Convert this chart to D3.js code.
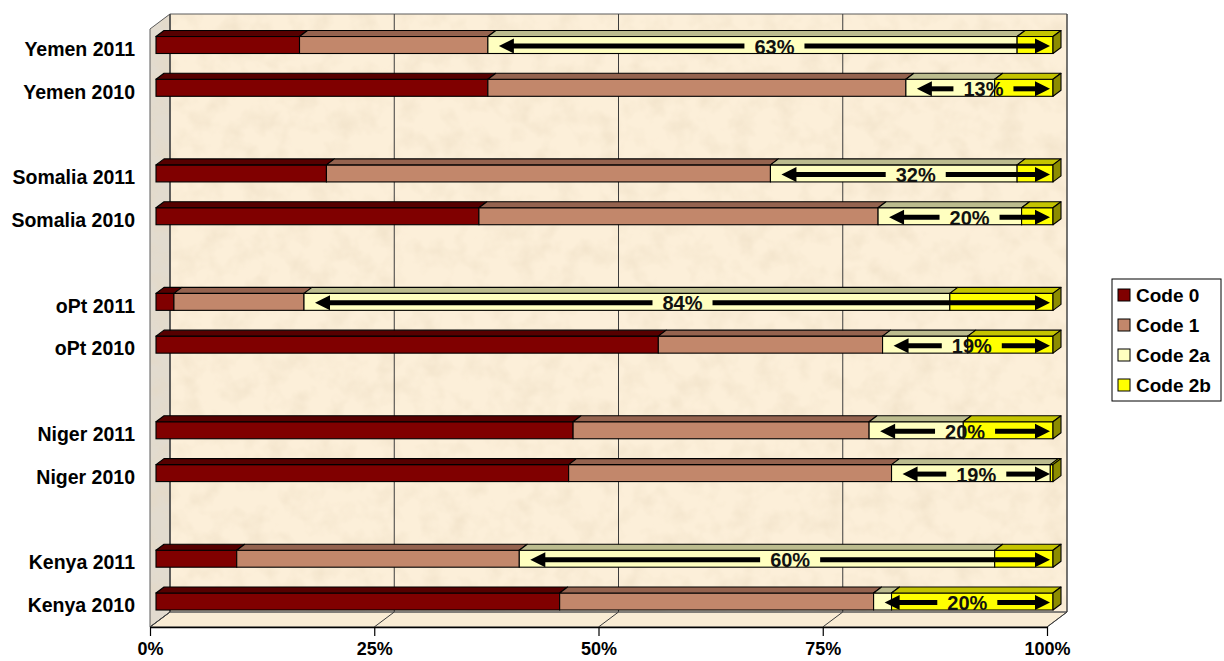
<!DOCTYPE html>
<html>
<head>
<meta charset="utf-8">
<script src="https://cdn.jsdelivr.net/npm/d3@7"></script>
<style>
  html, body { margin: 0; padding: 0; background: #ffffff; }
  svg { display: block; font-family: "Liberation Sans", Arial, sans-serif; }
</style>
</head>
<body>
<svg id="chart" width="1224" height="661"></svg>
<script>
// Rows from top to bottom; empty strings are spacer rows between countries
const categories = ["Yemen 2011", "Yemen 2010", "", "Somalia 2011", "Somalia 2010", "",
                    "oPt 2011", "oPt 2010", "", "Niger 2011", "Niger 2010", "",
                    "Kenya 2011", "Kenya 2010"];
const seriesNames = ["Code 0", "Code 1", "Code 2a", "Code 2b"];
// Shares in percent of each row
const code0  = [16, 37,   null, 19,   36,   null, 2,    56,  null, 46.5, 46,   null, 9,    45];
const code1  = [21, 46.6, null, 49.5, 44.5, null, 14.5, 25,  null, 33,   36,   null, 31.5, 35];
const code2a = [59, 9.9,  null, 27.5, 16,   null, 72,   9.5, null, 10.5, 17.7, null, 53,   2];
const code2b = [4,  6.5,  null, 4,    3.5,  null, 11.5, 9.5, null, 10,   0.3,  null, 6.5,  18];
// Combined Code 2a + 2b annotation written on the double arrows
const arrowLabels = ["63%", "13%", "", "32%", "20%", "", "84%", "19%", "", "20%", "19%", "", "60%", "20%"];
const tickValues = [0, 0.25, 0.5, 0.75, 1];

const frontColors = ["#800000", "#c2876b", "#ffffc0", "#ffff00"];
const topColors   = ["#560000", "#94634f", "#bcbc8e", "#c4c400"];
const sideColors  = ["#400000", "#7a5040", "#9a9a70", "#8c8c00"];

const svg = d3.select("#chart");
const defs = svg.append("defs");

// subtle paper grain for the walls
const f = defs.append("filter").attr("id", "grain")
  .attr("x", 0).attr("y", 0).attr("width", 1).attr("height", 1);
f.append("feTurbulence").attr("type", "fractalNoise").attr("baseFrequency", 0.045)
  .attr("numOctaves", 3).attr("seed", 7).attr("result", "n");
f.append("feColorMatrix").attr("in", "n").attr("type", "matrix")
  .attr("values", "0 0 0 0 0.80  0 0 0 0 0.68  0 0 0 0 0.50  0.9 0 0 0 -0.38")
  .attr("result", "c");
f.append("feComposite").attr("in", "c").attr("in2", "SourceGraphic").attr("operator", "in");

// ---- scales ----
const DX = 20, DY = -15;              // depth of the plot box
const xFront = d3.scaleLinear().domain([0, 1]).range([150, 1047]);
const xBar = d3.scaleLinear().domain([0, 100]).range([156, 1053]);
const yRow = d3.scalePoint().domain(d3.range(categories.length)).range([45, 601.5]);
const yLabel = d3.scalePoint().domain(d3.range(categories.length)).range([49, 605.5]);
const floorY = 627, topY = 14;
const barH = 17, bdx = 8, bdy = -6;

// ---- walls ----
const pts = a => a.map(p => p.join(",")).join(" ");
const backWall = [[xFront(0) + DX, topY], [xFront(1) + DX, topY], [xFront(1) + DX, floorY + DY], [xFront(0) + DX, floorY + DY]];
const sideWall = [[xFront(0), topY - DY], [xFront(0) + DX, topY], [xFront(0) + DX, floorY + DY], [xFront(0), floorY]];
const floor = [[xFront(0), floorY], [xFront(0) + DX, floorY + DY], [xFront(1) + DX, floorY + DY], [xFront(1), floorY]];

const walls = svg.append("g");
walls.append("polygon").attr("points", pts(backWall)).attr("fill", "#fcefd9");
walls.append("polygon").attr("points", pts(backWall)).attr("fill", "#fff").attr("filter", "url(#grain)");
walls.append("polygon").attr("points", pts(sideWall)).attr("fill", "#e2dbcf");
walls.append("polygon").attr("points", pts(sideWall)).attr("fill", "#fff").attr("filter", "url(#grain)");
walls.append("polygon").attr("points", pts(floor)).attr("fill", "#f9ecd4");
walls.selectAll("polygon.o").data([backWall, sideWall, floor]).join("polygon")
  .attr("class", "o").attr("points", d => pts(d))
  .attr("fill", "none").attr("stroke", "#5a5a5a").attr("stroke-width", 1);

// gridlines on the back wall and their continuation across the floor
walls.selectAll("line.g").data(tickValues).join("line").attr("class", "g")
  .attr("x1", d => xFront(d) + DX).attr("x2", d => xFront(d) + DX)
  .attr("y1", topY).attr("y2", floorY + DY)
  .attr("stroke", "#3c3c3c").attr("stroke-width", 1);
walls.selectAll("line.f").data(tickValues).join("line").attr("class", "f")
  .attr("x1", d => xFront(d) + DX).attr("x2", d => xFront(d))
  .attr("y1", floorY + DY).attr("y2", floorY)
  .attr("stroke", "#3c3c3c").attr("stroke-width", 1);

// ---- bars ----
const series = [code0, code1, code2a, code2b];
const rows = categories.map((c, i) => ({ i, vals: series.map(s => s[i]) }))
  .filter(r => r.vals[0] !== null);

const barsG = svg.append("g");
rows.forEach(r => {
  const g = barsG.append("g");
  const yc = yRow(r.i), y0 = yc - barH / 2;
  let cum = 0;
  const segs = r.vals.map((v, k) => { const s = { k, a: cum, b: cum + v }; cum += v; return s; });
  segs.forEach(s => {
    const xa = xBar(s.a), xb = xBar(s.b);
    g.append("rect").attr("x", xa).attr("y", y0).attr("width", xb - xa).attr("height", barH)
      .attr("fill", frontColors[s.k]).attr("stroke", "#000").attr("stroke-width", 1.1);
    g.append("polygon")
      .attr("points", pts([[xa, y0], [xa + bdx, y0 + bdy], [xb + bdx, y0 + bdy], [xb, y0]]))
      .attr("fill", topColors[s.k]).attr("stroke", "#000").attr("stroke-width", 1.1)
      .attr("stroke-linejoin", "round");
  });
  const last = segs[segs.length - 1];
  const xe = xBar(last.b);
  g.append("polygon")
    .attr("points", pts([[xe, y0], [xe + bdx, y0 + bdy], [xe + bdx, y0 + bdy + barH], [xe, y0 + barH]]))
    .attr("fill", sideColors[last.k]).attr("stroke", "#000").attr("stroke-width", 1.1)
    .attr("stroke-linejoin", "round");

  // double arrow across Code 2a + Code 2b with its annotation
  const label = arrowLabels[r.i];
  if (label) {
    const s = xBar(segs[2].a) + 11, e = xBar(100) - 3, ya = yc + 1, mid = (s + e) / 2;
    const t = g.append("text").attr("x", mid).attr("y", ya + 7.5)
      .attr("text-anchor", "middle").attr("font-size", 20).attr("font-weight", "bold")
      .attr("fill", "#111").text(label);
    const gap = t.node().getComputedTextLength() / 2 + 10;
    const hl = 15, hh = 7.5;
    g.insert("line", "text").attr("x1", s + hl - 1).attr("x2", mid - gap).attr("y1", ya).attr("y2", ya)
      .attr("stroke", "#000").attr("stroke-width", 5);
    g.insert("line", "text").attr("x1", mid + gap).attr("x2", e - hl + 1).attr("y1", ya).attr("y2", ya)
      .attr("stroke", "#000").attr("stroke-width", 5);
    g.insert("polygon", "text").attr("points", pts([[s, ya], [s + hl, ya - hh], [s + hl, ya + hh]])).attr("fill", "#000");
    g.insert("polygon", "text").attr("points", pts([[e, ya], [e - hl, ya - hh], [e - hl, ya + hh]])).attr("fill", "#000");
  }
});

// ---- axes ----
const xAxis = d3.axisBottom(xFront).tickValues(tickValues)
  .tickFormat(d3.format(".0%")).tickSize(9).tickSizeOuter(0).tickPadding(6);
const xg = svg.append("g").attr("transform", `translate(0,${floorY})`).call(xAxis);
xg.select(".domain").attr("stroke", "#000").attr("stroke-width", 1.6);
xg.selectAll(".tick line").attr("stroke", "#000").attr("stroke-width", 1.2);
xg.selectAll(".tick text").attr("font-size", 18).attr("font-weight", "bold")
  .attr("font-family", "Liberation Sans, Arial, sans-serif").attr("fill", "#000");

const yAxis = d3.axisLeft(yLabel).tickFormat(i => categories[i]).tickSize(0).tickPadding(0);
const yg = svg.append("g").attr("transform", "translate(135,0)").call(yAxis);
yg.select(".domain").remove();
yg.selectAll(".tick text").attr("font-size", 19.5).attr("font-weight", "bold")
  .attr("font-family", "Liberation Sans, Arial, sans-serif").attr("fill", "#000");

// ---- legend ----
const lg = svg.append("g");
const lx = 1112, ly = 279, lstep = 30;
lg.append("rect").attr("x", lx).attr("y", ly).attr("width", 109)
  .attr("height", 16 + lstep * (seriesNames.length - 1) + 16)
  .attr("fill", "#fff").attr("stroke", "#000").attr("stroke-width", 1);
seriesNames.forEach((n, k) => {
  const cy = ly + 16 + k * lstep;
  lg.append("rect").attr("x", lx + 6).attr("y", cy - 6).attr("width", 12).attr("height", 12)
    .attr("fill", frontColors[k]).attr("stroke", "#000").attr("stroke-width", 1);
  lg.append("text").attr("x", lx + 24).attr("y", cy + 7).attr("font-size", 19)
    .attr("font-weight", "bold").attr("fill", "#000").text(n);
});
</script>
</body>
</html>
